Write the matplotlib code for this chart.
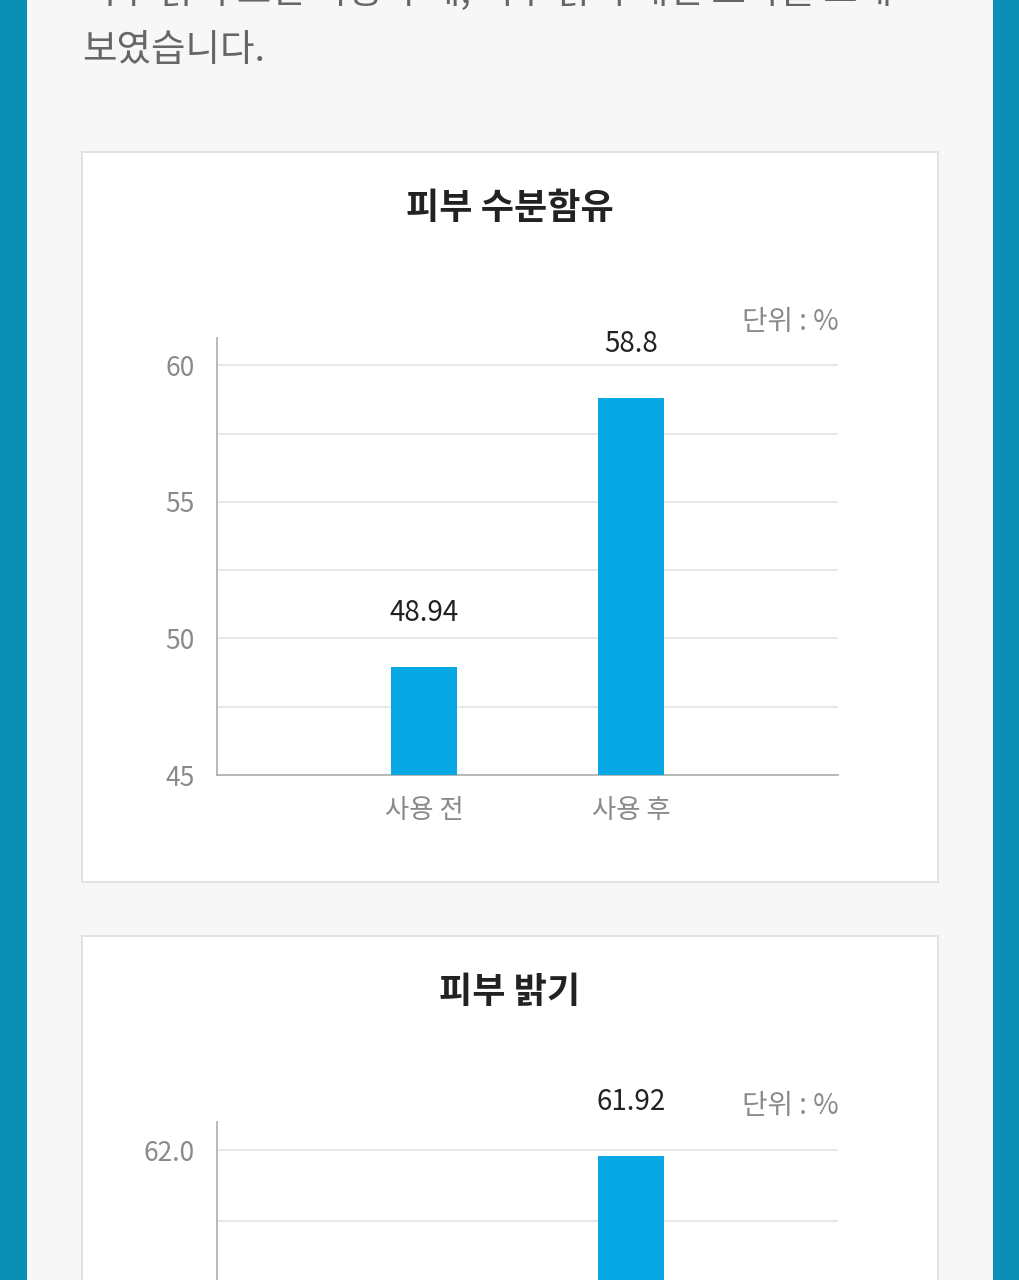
import matplotlib.pyplot as plt
from matplotlib.patches import Rectangle
from matplotlib.ticker import FixedLocator, FuncFormatter

plt.rcParams['font.family'] = ['Noto Sans CJK KR', 'DejaVu Sans']

# Chart data
categories = ['사용 전', '사용 후']
moisture_values = [48.94, 58.8]
moisture_labels = ['48.94', '58.8']
brightness_values = [58.5, 61.92]   # first bar is below the visible area
brightness_labels = ['58.5', '61.92']

moisture_ylim = (45, 61)
moisture_major = [45, 50, 55, 60]
moisture_minor = [47.5, 52.5, 57.5]
brightness_ylim = (56.2, 62.4)
brightness_major = [58.0, 60.0, 62.0]
brightness_minor = [57.0, 59.0, 61.0]

W, H = 1020, 1280
BAR = '#07a8e3'
TEAL = '#0b8fb6'
GRID = '#e8e8e8'
SPINE = '#b3b3b3'
GRAY = '#8a8a8a'

fig = plt.figure(figsize=(W / 100, H / 100), dpi=100)
fig.patch.set_facecolor('#f7f7f7')


def fx(px):
    return px / W


def fy(py):
    return 1 - py / H


def rect_px(x0, y0, x1, y1, **kw):
    fig.patches.append(Rectangle((fx(x0), fy(y1)), fx(x1) - fx(x0), fy(y0) - fy(y1),
                                 transform=fig.transFigure, zorder=0, **kw))


# teal side bands
rect_px(0, 0, 27, H, facecolor=TEAL, edgecolor='none')
rect_px(993, 0, W, H, facecolor=TEAL, edgecolor='none')

# intro text (first line cut off by the screenshot)
fig.text(fx(82), fy(-8), '피부 밝기 또한 사용 후에, 피부 밝기 개선 효과를 크게',
         fontsize=27, color='#666666', va='center', ha='left')
fig.text(fx(82), fy(50), '보였습니다.', fontsize=27, color='#666666', va='center', ha='left')

# cards
rect_px(82, 152, 938, 882, facecolor='white', edgecolor='#e3e3e3', linewidth=1.5)
rect_px(82, 936, 938, 1400, facecolor='white', edgecolor='#e3e3e3', linewidth=1.5)


def draw_chart(top, title, title_y, values, labels, ylim, major, minor, fmt):
    ax = fig.add_axes([fx(217), fy(top + 437), fx(621), 437 / H])
    ax.set_zorder(2)
    ax.set_facecolor('none')
    x = range(len(values))
    ax.bar(x, values, width=0.32, color=BAR, zorder=3)
    ax.set_xlim(-1, 2)
    ax.set_ylim(*ylim)
    ax.yaxis.set_major_locator(FixedLocator(major))
    ax.yaxis.set_minor_locator(FixedLocator(minor))
    ax.yaxis.set_major_formatter(FuncFormatter(lambda v, p: fmt.format(v)))
    ax.grid(axis='y', which='both', color=GRID, linewidth=1.5, zorder=0)
    ax.set_axisbelow(True)
    ax.set_xticks(list(x))
    ax.set_xticklabels(categories)
    ax.tick_params(axis='both', which='both', length=0, colors=GRAY, labelsize=19)
    ax.tick_params(axis='x', pad=16)
    ax.tick_params(axis='y', pad=16)
    for s in ['top', 'right']:
        ax.spines[s].set_visible(False)
    for s in ['left', 'bottom']:
        ax.spines[s].set_color(SPINE)
        ax.spines[s].set_linewidth(1.3)
    for xi, v, lab in zip(x, values, labels):
        ax.annotate(lab, (xi, v), xytext=(0, 39), textcoords='offset points',
                    ha='center', va='center', fontsize=20, color='#222222')
    ax.text(0.923, 1.036, '단위 : %', transform=ax.transAxes, ha='center', va='center',
            fontsize=20, color=GRAY)
    fig.text(fx(510), fy(title_y), title, ha='center', va='center',
             fontsize=26, fontweight='bold', color='#222222', zorder=3)
    return ax


draw_chart(338, '피부 수분함유', 208, moisture_values, moisture_labels,
           moisture_ylim, moisture_major, moisture_minor, '{:.0f}')
draw_chart(1122, '피부 밝기', 993, brightness_values, brightness_labels,
           brightness_ylim, brightness_major, brightness_minor, '{:.1f}')

fig.savefig('out.png', dpi=100)
